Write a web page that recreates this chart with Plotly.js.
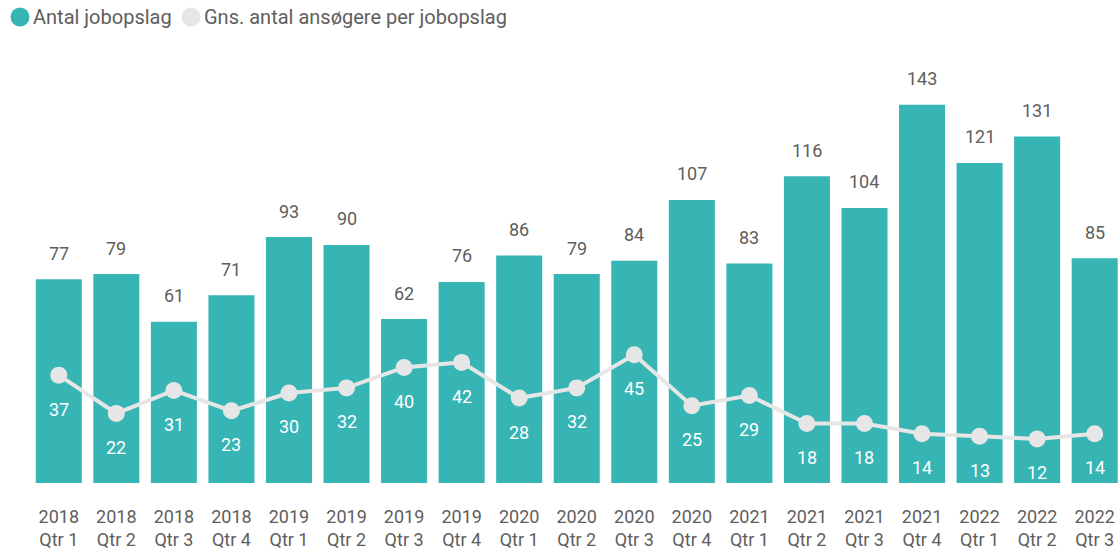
<!DOCTYPE html>
<html>
<head>
<meta charset="utf-8">
<script src="https://cdn.plot.ly/plotly-3.0.1.min.js"></script>
<style>html,body{margin:0;padding:0;background:#fff;}#chart{width:1120px;height:550px;}</style>
</head>
<body>
<div id="chart"></div>
<script>
const categories = ["2018<br>Qtr 1","2018<br>Qtr 2","2018<br>Qtr 3","2018<br>Qtr 4",
  "2019<br>Qtr 1","2019<br>Qtr 2","2019<br>Qtr 3","2019<br>Qtr 4",
  "2020<br>Qtr 1","2020<br>Qtr 2","2020<br>Qtr 3","2020<br>Qtr 4",
  "2021<br>Qtr 1","2021<br>Qtr 2","2021<br>Qtr 3","2021<br>Qtr 4",
  "2022<br>Qtr 1","2022<br>Qtr 2","2022<br>Qtr 3"];
const jobPosts = [77,79,61,71,93,90,62,76,86,79,84,107,83,116,104,143,121,131,85];
const avgApplicants = [37,22,31,23,30,32,40,42,28,32,45,25,29,18,18,14,13,12,14];
const seriesNames = ["Antal jobopslag","Gns. antal ansøgere per jobopslag"];

const teal = "#37B5B5";
const grey = "#E6E6E6";
const txt = "#605E5C";
const FONT = "Roboto, 'DejaVu Sans', sans-serif";

const traces = [
  {type:"bar", x:categories, y:jobPosts, name:seriesNames[0], marker:{color:teal},
   hoverinfo:"y", showlegend:false},
  {type:"scatter", mode:"lines+markers", x:categories, y:avgApplicants, name:seriesNames[1],
   yaxis:"y2", line:{color:grey, width:4}, marker:{color:grey, size:17}, showlegend:false, cliponaxis:false}
];

const annotations = [];
categories.forEach((c,i)=>{
  annotations.push({x:c, y:jobPosts[i], xref:"x", yref:"y", text:String(jobPosts[i]),
    showarrow:false, yanchor:"middle", yshift:26, font:{family:FONT, size:18, color:txt}});
  annotations.push({x:c, y:avgApplicants[i], xref:"x", yref:"y2", text:String(avgApplicants[i]),
    showarrow:false, yanchor:"middle", yshift:-34, font:{family:FONT, size:18, color:"#ffffff"}});
});
// legend texts
annotations.push({xref:"paper", yref:"paper", x:(31-30)/1090, y:(483-17)/433, xanchor:"left", yanchor:"middle",
  text:seriesNames[0], showarrow:false, font:{family:FONT, size:20, color:txt}});
annotations.push({xref:"paper", yref:"paper", x:(202-30)/1090, y:(483-17)/433, xanchor:"left", yanchor:"middle",
  text:seriesNames[1], showarrow:false, font:{family:FONT, size:20, color:txt}});

const shapes = [
  {type:"circle", xref:"paper", yref:"paper", xsizemode:"pixel", ysizemode:"pixel",
   xanchor:(20-30)/1090, yanchor:(483-17)/433, x0:-9.5, x1:9.5, y0:-9.5, y1:9.5,
   fillcolor:teal, line:{width:0}},
  {type:"circle", xref:"paper", yref:"paper", xsizemode:"pixel", ysizemode:"pixel",
   xanchor:(191-30)/1090, yanchor:(483-17)/433, x0:-9.5, x1:9.5, y0:-9.5, y1:9.5,
   fillcolor:grey, line:{width:0}}
];

const layout = {
  width:1120, height:550,
  margin:{l:30, r:0, t:50, b:67},
  paper_bgcolor:"#ffffff", plot_bgcolor:"#ffffff",
  font:{family:FONT, color:txt},
  bargap:0.2,
  showlegend:false,
  xaxis:{type:"category", range:[-0.5,18.44], showgrid:false, zeroline:false, showline:false,
    ticks:"", tickfont:{family:FONT, size:18, color:txt}, ticklabelstandoff:21, automargin:false},
  yaxis:{range:[0,163.7], visible:false, fixedrange:true},
  yaxis2:{range:[-5.3,164.5], overlaying:"y", side:"right", visible:false},
  annotations:annotations,
  shapes:shapes
};

Plotly.newPlot("chart", traces, layout, {displayModeBar:false, staticPlot:true});
</script>
</body>
</html>
